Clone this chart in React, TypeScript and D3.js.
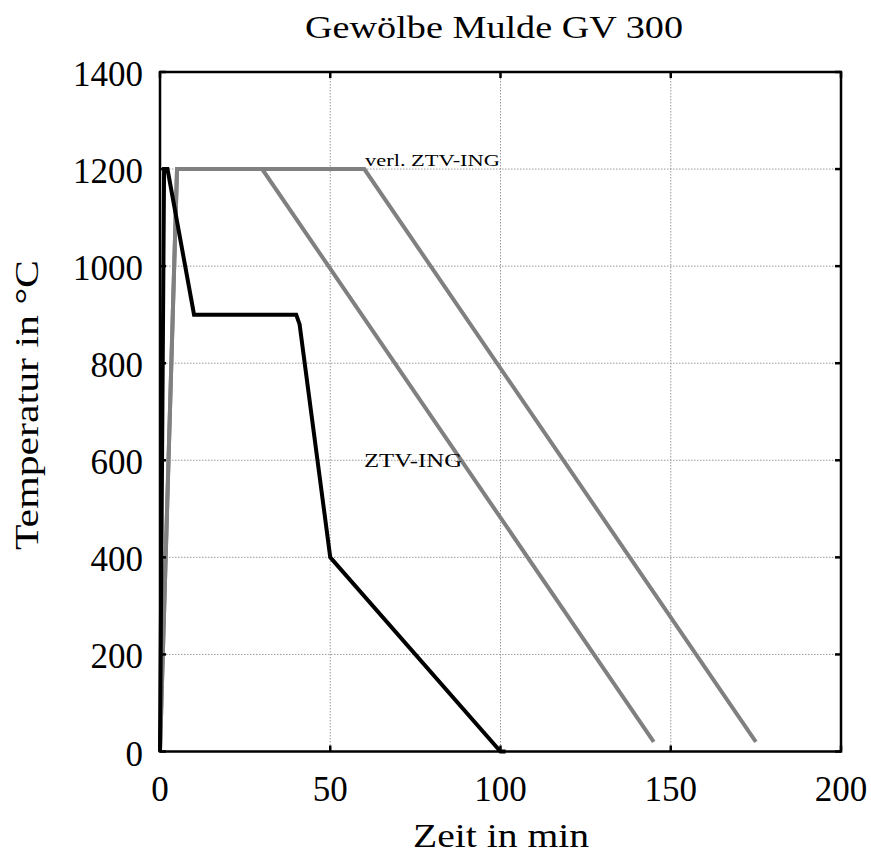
import * as d3 from 'd3';

type Pt = [number, number];

const xTicks = [0, 50, 100, 150, 200];
const yTicks = [0, 200, 400, 600, 800, 1000, 1200, 1400];

// Gewölbe Mulde GV 300 measured curve
const gv300: Pt[] = [
  [0, 0], [1.2, 1200], [2.2, 1200], [10, 900], [40, 900], [41, 880], [50, 400], [100, 0], [101.5, 0],
];
// ZTV-ING standard curve
const ztvIng: Pt[] = [[0, 0], [5, 1200], [30, 1200], [145, 20]];
// verlängerte ZTV-ING
const verlZtvIng: Pt[] = [[0, 0], [5, 1200], [60, 1200], [175, 20]];

const font = '"Liberation Serif", "DejaVu Serif", serif';

export default function App() {
  const width = 871;
  const height = 855;
  const left = 160, right = 841, top = 72, bottom = 751.5;

  const x = d3.scaleLinear().domain([0, 200]).range([left, right]);
  const y = d3.scaleLinear().domain([0, 1400]).range([bottom, top]);
  const line = d3.line<Pt>().x(d => x(d[0])).y(d => y(d[1]));

  return (
    <svg width={width} height={height} style={{ position: 'absolute', left: 0, top: 0, background: '#fff' }}>
      {/* grid */}
      {xTicks.slice(1, -1).map(t => (
        <line key={'gx' + t} x1={x(t)} x2={x(t)} y1={top} y2={bottom} stroke="#999" strokeWidth={1} strokeDasharray="1.5,1.5" />
      ))}
      {yTicks.slice(1, -1).map(t => (
        <line key={'gy' + t} x1={left} x2={right} y1={y(t)} y2={y(t)} stroke="#999" strokeWidth={1} strokeDasharray="1.5,1.5" />
      ))}

      {/* series */}
      <path d={line(verlZtvIng) ?? ''} fill="none" stroke="#808080" strokeWidth={4} strokeLinejoin="miter" />
      <path d={line(ztvIng) ?? ''} fill="none" stroke="#808080" strokeWidth={4} strokeLinejoin="miter" />
      <path d={line(gv300) ?? ''} fill="none" stroke="#000" strokeWidth={4} strokeLinejoin="miter" />

      {/* axes box */}
      <rect x={left} y={top} width={right - left} height={bottom - top} fill="none" stroke="#000" strokeWidth={2.5} />
      {xTicks.map(t => (
        <g key={'xt' + t}>
          <line x1={x(t)} x2={x(t)} y1={bottom} y2={bottom - 6} stroke="#000" strokeWidth={2.5} />
          <line x1={x(t)} x2={x(t)} y1={top} y2={top + 6} stroke="#000" strokeWidth={2.5} />
          <text x={x(t)} y={801} textAnchor="middle" fontFamily={font} fontSize={35}>{t}</text>
        </g>
      ))}
      {yTicks.map(t => (
        <g key={'yt' + t}>
          <line x1={left} x2={left + 6} y1={y(t)} y2={y(t)} stroke="#000" strokeWidth={2.5} />
          <line x1={right} x2={right - 6} y1={y(t)} y2={y(t)} stroke="#000" strokeWidth={2.5} />
          <text x={143} y={y(t) + 14} textAnchor="end" fontFamily={font} fontSize={35}>{t}</text>
        </g>
      ))}

      {/* labels */}
      <text x={365} y={166} fontFamily={font} fontSize={17} textLength={135} lengthAdjust="spacingAndGlyphs">verl. ZTV-ING</text>
      <text x={364} y={467} fontFamily={font} fontSize={18} textLength={98} lengthAdjust="spacingAndGlyphs">ZTV-ING</text>

      <text x={305} y={38} fontFamily={font} fontSize={31} textLength={378} lengthAdjust="spacingAndGlyphs">Gewölbe Mulde GV 300</text>
      <text x={413} y={847} fontFamily={font} fontSize={34} textLength={176} lengthAdjust="spacingAndGlyphs">Zeit in min</text>
      <text transform={`translate(38, 550) rotate(-90)`} fontFamily={font} fontSize={33} textLength={290} lengthAdjust="spacingAndGlyphs">Temperatur in °C</text>
    </svg>
  );
}
